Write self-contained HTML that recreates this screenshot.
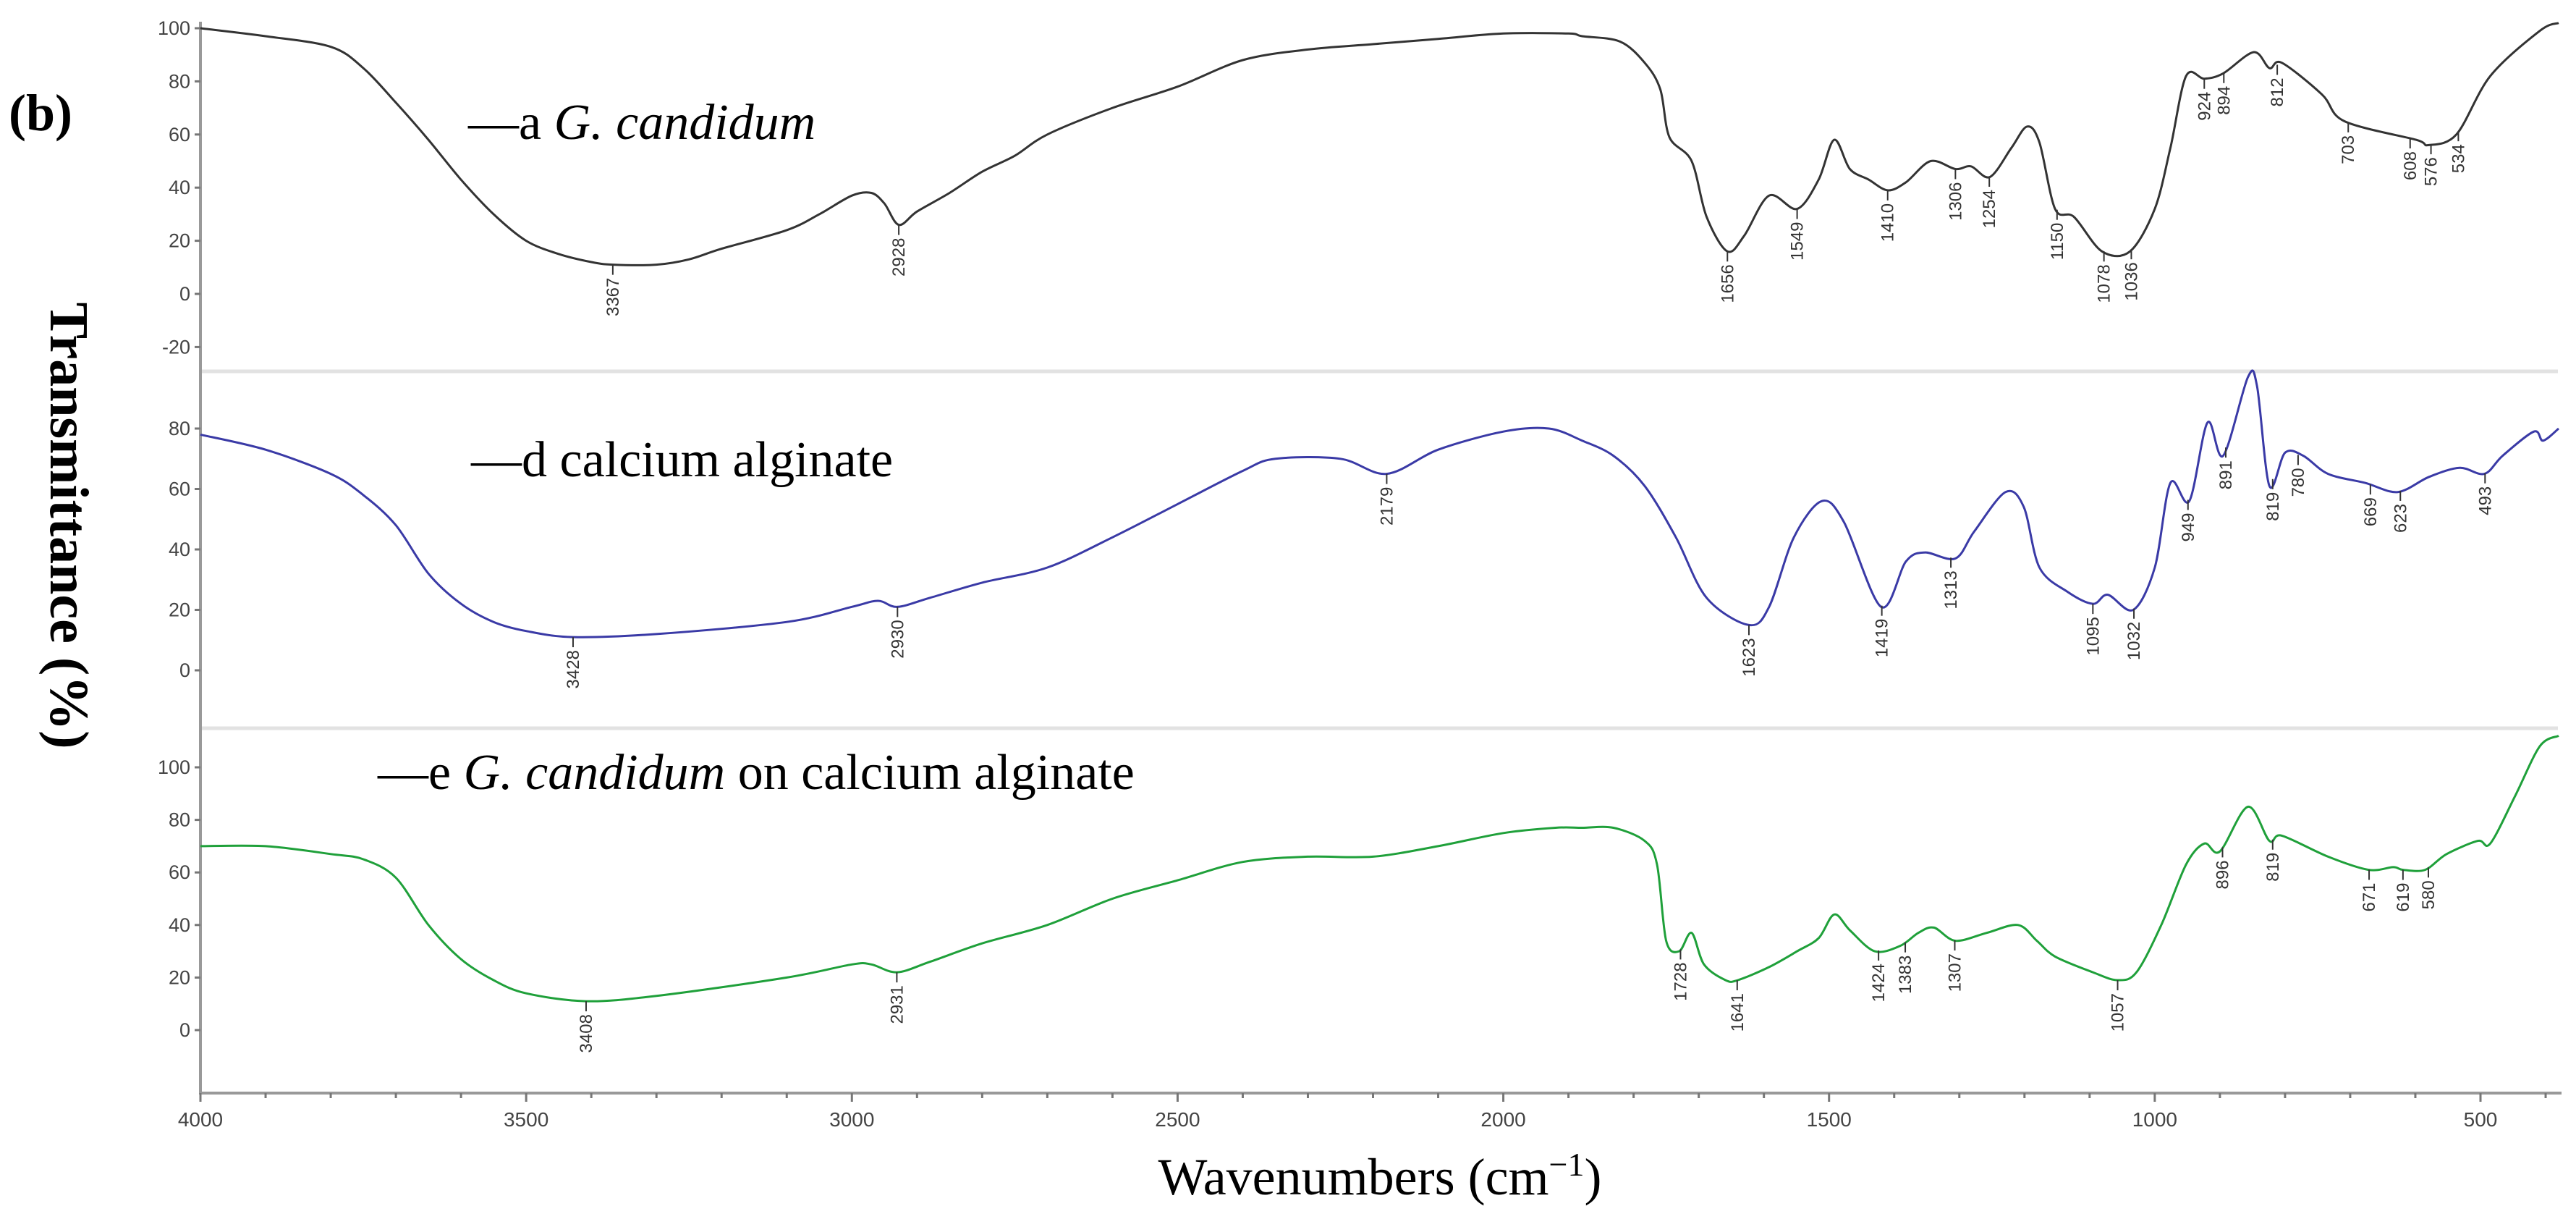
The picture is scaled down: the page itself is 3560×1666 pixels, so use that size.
<!DOCTYPE html>
<html><head><meta charset="utf-8"><style>
html,body{margin:0;padding:0;background:#fff;}
svg{display:block;}
</style></head><body>
<svg id="chart" width="3560" height="1666" viewBox="0 0 3560 1666" xmlns="http://www.w3.org/2000/svg">
<text x="12" y="180" font-family="Liberation Serif, serif" font-weight="bold" font-size="72">(b)</text>
<text transform="translate(70,726) rotate(90)" text-anchor="middle" font-family="Liberation Serif, serif" font-weight="bold" font-size="76">Transmittance (%)</text>
<text x="1907" y="1650" text-anchor="middle" font-family="Liberation Serif, serif" font-size="72">Wavenumbers (cm<tspan font-size="46" dy="-26">−1</tspan><tspan dy="26">)</tspan></text>
<text x="647" y="192" font-family="Liberation Serif, serif" font-size="70">—a <tspan font-style="italic">G. candidum</tspan></text>
<text x="651" y="658" font-family="Liberation Serif, serif" font-size="70">—d calcium alginate</text>
<text x="522" y="1090" font-family="Liberation Serif, serif" font-size="70">—e <tspan font-style="italic">G. candidum</tspan> on calcium alginate</text>
<g id="g"></g>
</svg>
<script>
const xTicks = [4000,3500,3000,2500,2000,1500,1000,500];
const wnA = [4000,3900,3800,3750,3700,3650,3600,3550,3500,3450,3400,3367,3300,3250,3200,3100,3050,3000,2970,2950,2928,2900,2850,2800,2750,2700,2600,2500,2400,2300,2200,2100,2000,1900,1879,1821,1783,1759,1745,1711,1688,1656,1630,1592,1549,1516,1492,1468,1439,1410,1382,1344,1306,1282,1253,1220,1196,1177,1153,1124,1081,1038,1000,976,952,924,895,848,824,805,743,709,599,580,537,485,409,380];
const tA = [100,97,93,85,72,58,43,30,20,15,12,11,11,13,17,24,30,37,38,34,26,31,38,46,52,60,70,78,88,92,94,96,98,98,97,95,87,77,59,50,29,16,22,37,32,43,58,47,43,39,42,50,47,48,44,55,63,57,32,29,16,16,32,55,82,81,83,91,85,87,75,65,58,56,60,82,99,102];
const wnD = [4000,3900,3800,3750,3700,3650,3600,3550,3500,3428,3300,3100,3000,2960,2930,2880,2800,2700,2600,2500,2400,2350,2250,2179,2100,2000,1930,1879,1831,1783,1735,1688,1623,1592,1554,1511,1477,1420,1382,1353,1306,1277,1229,1201,1177,1134,1095,1072,1033,1000,976,947,919,895,857,843,824,800,772,734,677,627,579,532,494,466,418,404,380];
const tD = [78,73,65,58,48,32,22,16,13,11,12,16,21,23,21,24,29,34,44,55,66,70,70,65,73,79,80,76,71,61,44,24,15,21,44,56,49,21,36,39,37,46,59,54,34,26,22,25,20,34,62,56,82,71,97,94,61,72,71,65,62,59,64,67,65,71,79,76,80];
const wnE = [4000,3900,3800,3750,3700,3650,3600,3550,3500,3408,3300,3100,3000,2970,2931,2880,2800,2700,2600,2500,2400,2300,2200,2100,2000,1920,1879,1831,1783,1764,1750,1730,1711,1692,1659,1640,1592,1549,1516,1492,1468,1430,1391,1363,1339,1306,1258,1210,1181,1153,1095,1057,1028,990,952,924,900,857,824,805,734,672,634,619,585,552,504,485,447,409,380];
const tE = [70,70,67,65,58,40,27,19,14,11,13,20,25,25,22,26,33,40,50,57,64,66,66,70,75,77,77,77,72,63,34,30,37,25,19,19,24,30,35,44,38,30,32,37,39,34,37,40,34,28,22,19,22,40,63,71,68,85,72,74,66,61,62,61,61,67,72,71,89,108,112];
const peaksA = [3367,2928,1656,1549,1410,1306,1254,1150,1078,1036,924,894,812,703,608,576,534];
const peaksD = [3428,2930,2179,1623,1419,1313,1095,1032,949,891,819,780,669,623,493];
const peaksE = [3408,2931,1728,1641,1424,1383,1307,1057,896,819,671,619,580];
const ticksA = [100,80,60,40,20,0,-20];
const ticksD = [80,60,40,20,0];
const ticksE = [100,80,60,40,20,0];

const NS='http://www.w3.org/2000/svg';
const g=document.getElementById('g');
const X0=277, X1=3428;
function xs(w){return X0+(4000-w)*(X1-X0)/3500;}
const panels=[
 {wn:wnA,t:tA,pk:peaksA,ticks:ticksA,y100:39,y0:406,color:'#333',name:'a'},
 {wn:wnD,t:tD,pk:peaksD,ticks:ticksD,y100:926-334*100/80,y0:926,color:'#3a3aa6',name:'d'},
 {wn:wnE,t:tE,pk:peaksE,ticks:ticksE,y100:1060,y0:1423,color:'#1fa03a',name:'e'}
];
function mk(tag,attrs){const e=document.createElementNS(NS,tag);for(const k in attrs)e.setAttribute(k,attrs[k]);g.appendChild(e);return e;}
function interp(wn,t,w){for(let i=0;i<wn.length-1;i++){if(w<=wn[i]&&w>=wn[i+1]){const f=(wn[i]-w)/(wn[i]-wn[i+1]);return t[i]+f*(t[i+1]-t[i]);}}return t[t.length-1];}
function smooth(P){let d='M'+P[0][0].toFixed(1)+','+P[0][1].toFixed(1);
 for(let i=0;i<P.length-1;i++){const p0=P[Math.max(0,i-1)],p1=P[i],p2=P[i+1],p3=P[Math.min(P.length-1,i+2)];
  const k=0.16;
  const c1=[p1[0]+(p2[0]-p0[0])*k,p1[1]+(p2[1]-p0[1])*k],c2=[p2[0]-(p3[0]-p1[0])*k,p2[1]-(p3[1]-p1[1])*k];
  d+=' C'+c1[0].toFixed(1)+','+c1[1].toFixed(1)+' '+c2[0].toFixed(1)+','+c2[1].toFixed(1)+' '+p2[0].toFixed(1)+','+p2[1].toFixed(1);}
 return d;}
[513,1006].forEach(y=>{
 const l=mk('line',{x1:X0,x2:3535,y1:y,y2:y,stroke:'#e2e2e2','stroke-width':5});
 
 
});
const ax=mk('line',{x1:X0,x2:X0,y1:30,y2:1512,stroke:'#999','stroke-width':4});


const bx=mk('line',{x1:X0,x2:3540,y1:1510,y2:1510,stroke:'#999','stroke-width':4});


for(let w=4000;w>=400;w-=100){
 const major=w%500===0;
 const t=mk('line',{x1:xs(w),x2:xs(w),y1:1510,y2:major?1522:1517,stroke:'#777','stroke-width':3});
 
 
}
xTicks.forEach(w=>{
 const t=mk('text',{x:xs(w),y:1556,'text-anchor':'middle','font-family':'Liberation Sans, sans-serif','font-size':28,fill:'#444'});
 t.textContent=w;
 
 
});
panels.forEach(p=>{
 const ys=v=>p.y0+(p.y100-p.y0)*v/100;
 p.ticks.forEach(v=>{
  const tl=mk('line',{x1:X0-8,x2:X0,y1:ys(v),y2:ys(v),stroke:'#777','stroke-width':3});
  
  
  const tx=mk('text',{x:X0-14,y:ys(v)+9,'text-anchor':'end','font-family':'Liberation Sans, sans-serif','font-size':27,fill:'#444'});
  tx.textContent=v;
  
  
 });
 const P=p.wn.map((w,i)=>[xs(w),ys(p.t[i])]);
 const pl=mk('path',{d:smooth(P),fill:'none',stroke:p.color,'stroke-width':3,'stroke-linejoin':'round'});
 
 
 p.pk.forEach(w=>{
  const x=xs(w), y=ys(interp(p.wn,p.t,w));
  const ln=mk('line',{x1:x,x2:x,y1:y,y2:y+14,stroke:'#333','stroke-width':2});
  
  
  const tx=mk('text',{transform:`translate(${x+8},${y+18}) rotate(-90)`,'text-anchor':'end','font-family':'Liberation Sans, sans-serif','font-size':24,fill:'#333'});
  tx.textContent=w;
  
  
 });
});
</script>
</body></html>
